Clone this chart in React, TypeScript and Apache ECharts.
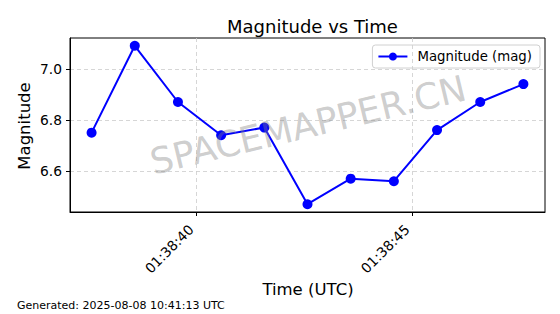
import React, { useEffect, useRef } from "react";
import * as echarts from "echarts";

// seconds past 01:38:00 (UTC)
const timeSeconds = [37.58, 38.58, 39.58, 40.58, 41.58, 42.58, 43.58, 44.58, 45.58, 46.58, 47.58];
const magnitudes = [6.75, 7.09, 6.87, 6.74, 6.77, 6.47, 6.57, 6.56, 6.76, 6.87, 6.94];
const xTickSeconds = [40, 45];
const yTicks = [6.6, 6.8, 7.0];

const FONT = "DejaVu Sans";

function fmtTime(sec: number): string {
  const s = Math.round(sec);
  return "01:38:" + String(s).padStart(2, "0");
}

export default function App() {
  const ref = useRef<HTMLDivElement>(null);
  useEffect(() => {
    if (!ref.current) return;
    const chart = echarts.init(ref.current, undefined, { renderer: "svg" });
    const data = timeSeconds.map((t, i) => [t, magnitudes[i]]);
    chart.setOption({
      animation: false,
      backgroundColor: "#ffffff",
      title: {
        text: "Magnitude vs Time",
        left: 307.5,
        textAlign: "center",
        top: 12,
        textStyle: { fontFamily: FONT, fontSize: 18, fontWeight: "normal", color: "#000" },
      },
      grid: {
        left: 70,
        right: 15,
        top: 38,
        bottom: 102,
        show: true,
        borderColor: "#000",
        borderWidth: 1,
        containLabel: false,
      },
      legend: {
        right: 20,
        top: 45,
        padding: [5, 8, 5, 5],
        borderColor: "#d0d0d0",
        borderWidth: 1,
        borderRadius: 3,
        itemWidth: 29,
        itemHeight: 10,
        itemGap: 8,
        textStyle: { fontFamily: FONT, fontSize: 13.3, color: "#000", padding: [0, 0, 0, 5] },
        data: ["Magnitude (mag)"],
      },
      xAxis: {
        type: "value",
        min: 37.08,
        max: 48.08,
        axisLine: { show: true, lineStyle: { color: "#000", width: 1 } },
        axisTick: { show: true, length: 4, inside: false, customValues: xTickSeconds, lineStyle: { color: "#000" } },
        axisLabel: {
          customValues: xTickSeconds,
          rotate: 45,
          margin: 10,
          padding: [0, 7, 0, 0],
          formatter: (v: number) => fmtTime(v),
          fontFamily: FONT,
          fontSize: 13.8,
          color: "#000",
        },
        splitLine: { show: true, lineStyle: { color: "#cccccc", type: [4, 3], width: 0.8 } },
      },
      yAxis: {
        type: "value",
        min: 6.4395,
        max: 7.1205,
        axisLine: { show: true, lineStyle: { color: "#000", width: 1 } },
        axisTick: { show: true, length: 4, inside: false, customValues: yTicks, lineStyle: { color: "#000" } },
        axisLabel: {
          customValues: yTicks,
          margin: 8,
          formatter: (v: number) => v.toFixed(1),
          fontFamily: FONT,
          fontSize: 13.8,
          color: "#000",
        },
        splitLine: { show: true, lineStyle: { color: "#cccccc", type: [4, 3], width: 0.8 } },
      },
      graphic: [
        {
          type: "text",
          x: 308,
          y: 125,
          rotation: 0.234,
          z: 100,
          style: {
            text: "SPACEMAPPER.CN",
            fontFamily: FONT,
            fontSize: 36,
            fill: "rgba(128,128,128,0.4)",
            align: "center",
            verticalAlign: "middle",
          },
        },
        {
          type: "text",
          x: 24,
          y: 126,
          rotation: Math.PI / 2,
          style: {
            text: "Magnitude",
            fontFamily: FONT,
            fontSize: 16.5,
            fill: "#000",
            align: "center",
            verticalAlign: "middle",
          },
        },
        {
          type: "text",
          x: 308,
          y: 289,
          style: {
            text: "Time (UTC)",
            fontFamily: FONT,
            fontSize: 16.5,
            fill: "#000",
            align: "center",
            verticalAlign: "middle",
          },
        },
        {
          type: "text",
          x: 17,
          y: 305,
          style: {
            text: "Generated: 2025-08-08 10:41:13 UTC",
            fontFamily: FONT,
            fontSize: 11,
            fill: "#000",
            align: "left",
            verticalAlign: "middle",
          },
        },
      ],
      series: [
        {
          name: "Magnitude (mag)",
          type: "line",
          data,
          symbol: "circle",
          symbolSize: 10,
          showSymbol: true,
          lineStyle: { color: "#0000ff", width: 2 },
          itemStyle: { color: "#0000ff" },
          z: 3,
        },
      ],
    });
    return () => chart.dispose();
  }, []);
  return <div ref={ref} style={{ width: 560, height: 314, position: "absolute", left: 0, top: 0 }} />;
}
